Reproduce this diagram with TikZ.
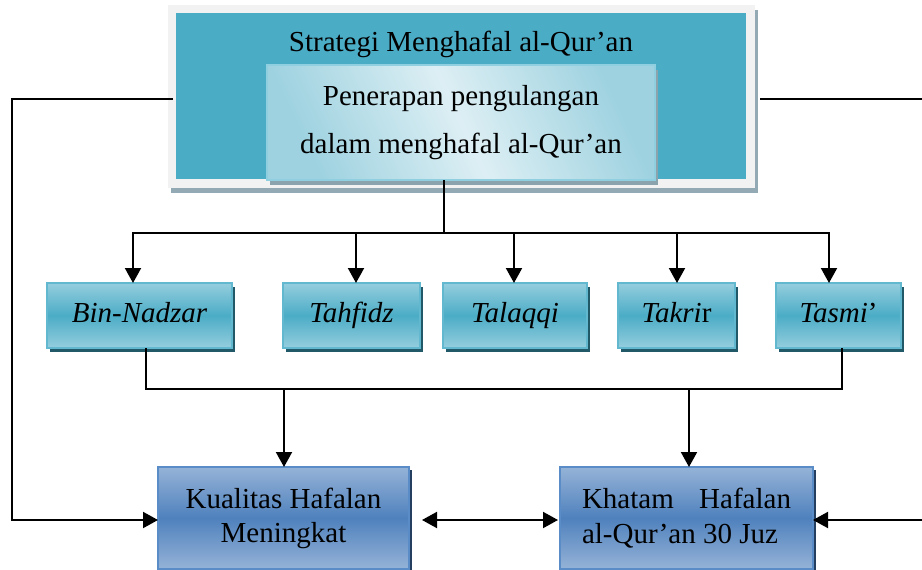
\documentclass[tikz,border=0pt]{standalone}
\usepackage{fontspec}
\setmainfont{Liberation Serif}
\usetikzlibrary{arrows.meta,calc,shadows}
\definecolor{framegray}{HTML}{F2F2F2}
\definecolor{frameshadow}{HTML}{93A9B4}
\definecolor{topblue}{HTML}{4BACC6}
\definecolor{penlight}{HTML}{DDEFF4}
\definecolor{penblue}{HTML}{9ED2E0}
\definecolor{penborder}{HTML}{8FCFE0}
\definecolor{penshadow}{HTML}{8BA3AC}
\definecolor{lvllight}{HTML}{95CEDE}
\definecolor{lvldark}{HTML}{4BACC6}
\definecolor{lvlborder}{HTML}{62B8CF}
\definecolor{lvlshadow}{HTML}{215968}
\definecolor{botlight}{HTML}{95B3D7}
\definecolor{botdark}{HTML}{4F81BD}
\definecolor{botborder}{HTML}{5A8CC8}
\definecolor{botshadow}{HTML}{243F60}
\begin{document}
\begin{tikzpicture}[x=1pt,y=-1pt,
  every node/.style={inner sep=0pt, outer sep=0pt},
  bigfont/.style={font=\fontsize{29}{34}\selectfont},
  frame/.style={fill=framegray, minimum width=587pt, minimum height=183pt,
    drop shadow={shadow xshift=2.5pt, shadow yshift=-5pt, fill=frameshadow, opacity=1}},
  topbox/.style={fill=topblue, minimum width=570pt, minimum height=166pt},
  penbox/.style={draw=penborder, line width=1.2pt, top color=penblue, bottom color=penblue,
    middle color=penlight, shading angle=-65, minimum width=388pt, minimum height=115pt,
    align=center, font=\fontsize{29}{48}\selectfont,
    drop shadow={shadow xshift=3pt, shadow yshift=-5pt, fill=penshadow, opacity=1}},
  lvl/.style={draw=lvlborder, line width=1.5pt, top color=lvllight, bottom color=lvllight,
    middle color=lvldark, minimum height=65pt, text height=20pt, text depth=7pt,
    font=\fontsize{29}{34}\selectfont\itshape,
    drop shadow={shadow xshift=3pt, shadow yshift=-4pt, fill=lvlshadow, opacity=1}},
  res/.style={draw=botborder, line width=1.5pt, top color=botlight, bottom color=botlight,
    middle color=botdark, minimum height=102pt,
    drop shadow={shadow xshift=3pt, shadow yshift=-3pt, fill=botshadow, opacity=1}},
  conn/.style={line width=1.8pt},
  arr/.style={line width=2pt, -{Triangle[length=15pt,width=16pt]}},
  darr/.style={line width=2pt, {Triangle[length=15pt,width=16pt]}-{Triangle[length=15pt,width=16pt]}}
]
\useasboundingbox (0,0) rectangle (922,570);

% top block
\node[frame] (frm) at (461.5,96.5) {};
\node[topbox] (top) at (461,96) {};
\node[bigfont, anchor=base] (ttl) at (461,51) {Strategi Menghafal al-Qur’an};
\node[penbox] (pen) at (461,122.5) {Penerapan pengulangan\\dalam menghafal al-Qur’an};

% methods
\node[lvl, minimum width=185pt] (bn) at (139.5,315.5) {Bin-Nadzar};
\node[lvl, minimum width=137pt] (th) at (351.5,315.5) {Tahfidz};
\node[lvl, minimum width=144pt] (tl) at (515,315.5) {Talaqqi};
\node[lvl, minimum width=117pt] (tk) at (676.5,315.5) {Takri\upshape r};
\node[lvl, minimum width=125pt] (ts) at (838.5,315.5) {Tasmi\upshape ’};

% results
\node[res, minimum width=251pt, align=center, font=\fontsize{29}{34}\selectfont] (kq) at (283.5,518) {Kualitas Hafalan\\Meningkat};
\node[res, minimum width=253pt, font=\fontsize{29}{35}\selectfont] (kh) at (686.5,518)
  {\begin{minipage}{209pt}\raggedright Khatam\hfill Hafalan\\al-Qur’an 30 Juz\end{minipage}};

% coordinates
\coordinate (bus) at (444,233);
\coordinate (j1) at (284,389);
\coordinate (j2) at (689,389);
\coordinate (lft) at (12,300);
\coordinate (rgt) at (923,300);

% connectors from strategy to methods
\draw[conn] (pen.south -| bus) -- (bus);
\draw[arr] (bus) -| ([xshift=-6.5pt]bn.north);
\draw[arr] (bus) -| ([xshift=4.5pt]th.north);
\draw[arr] (bus) -| ([xshift=-1pt]tl.north);
\draw[arr] (bus) -| ([xshift=0.5pt]tk.north);
\draw[arr] (bus) -| ([xshift=-9.5pt]ts.north);

% methods to results
\draw[conn] ([xshift=6.5pt]bn.south) |- (j1) -- (j2) -| ([xshift=3.5pt]ts.south);
\draw[arr] (j1) -- (j1 |- kq.north);
\draw[arr] (j2) -- (j2 |- kh.north);

% side loops
\draw[arr] ([xshift=5pt,yshift=-2.5pt]frm.west) -| (lft) |- ([yshift=-2pt]kq.west);
\draw[arr] ([xshift=5pt,yshift=-2.5pt]frm.east) -| (rgt) |- ([yshift=-2pt]kh.east);
\draw[darr] ([xshift=13pt,yshift=-2pt]kq.east) -- ([xshift=-2pt,yshift=-2pt]kh.west);
\end{tikzpicture}
\end{document}
